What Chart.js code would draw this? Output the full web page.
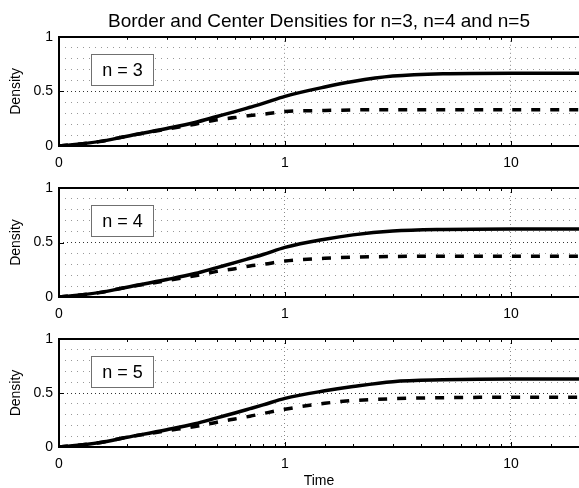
<!DOCTYPE html>
<html>
<head>
<meta charset="utf-8">
<script src="https://cdn.jsdelivr.net/npm/chart.js@4/dist/chart.umd.min.js"></script>
<style>
  body { margin: 0; background: #fff; }
  .panel { position: absolute; left: 0; width: 579px; }
</style>
</head>
<body>
<div class="panel" style="top:0;height:170px"><canvas id="p1"></canvas></div>
<div class="panel" style="top:151px;height:170px"><canvas id="p2"></canvas></div>
<div class="panel" style="top:302px;height:186px"><canvas id="p3"></canvas></div>
<script>
// values
const time = [0.1, 0.15, 0.2, 0.3, 0.4, 0.5, 0.6, 0.7, 0.8, 1, 1.5, 2, 3, 5, 10, 20];
const border3 = [0, 0.04, 0.09, 0.16, 0.215, 0.27, 0.315, 0.355, 0.39, 0.455, 0.54, 0.59, 0.64, 0.662, 0.667, 0.667];
const center3 = [0, 0.04, 0.09, 0.155, 0.20, 0.24, 0.26, 0.28, 0.29, 0.315, 0.325, 0.33, 0.333, 0.333, 0.333, 0.333];
const border4 = [0, 0.04, 0.09, 0.16, 0.215, 0.27, 0.315, 0.355, 0.39, 0.455, 0.53, 0.57, 0.605, 0.62, 0.625, 0.625];
const center4 = [0, 0.04, 0.09, 0.15, 0.195, 0.235, 0.26, 0.285, 0.30, 0.33, 0.355, 0.365, 0.372, 0.375, 0.375, 0.375];
const border5 = [0, 0.04, 0.09, 0.16, 0.215, 0.27, 0.315, 0.355, 0.39, 0.45, 0.52, 0.56, 0.605, 0.622, 0.63, 0.63];
const center5 = [0, 0.04, 0.09, 0.15, 0.19, 0.23, 0.26, 0.285, 0.31, 0.35, 0.405, 0.43, 0.447, 0.457, 0.46, 0.46];
const panelNames = ['n = 3', 'n = 4', 'n = 5'];
const yTickLabels = { 0: '0', 5: '0.5', 10: '1' };     // keyed by value*10
const xTickLabels = { '-1': '0', '0': '1', '1': '10' }; // keyed by log10(value)
const chartTitle = 'Border and Center Densities for n=3, n=4 and n=5';

Chart.defaults.font.family = '"Liberation Sans", Arial, Helvetica, sans-serif';
Chart.defaults.font.size = 14;
Chart.defaults.color = '#000';

function decade(v) {
    const l = Math.log10(v);
    return Math.abs(l - Math.round(l)) < 1e-6 ? Math.round(l) : null;
}

// box frame, inward ticks and the "n = ..." label
const frame = {
    id: 'frame',
    afterDatasetsDraw(chart, args, opts) {
        const ctx = chart.ctx, a = chart.chartArea, sx = chart.scales.x, sy = chart.scales.y;
        ctx.save();
        ctx.strokeStyle = '#000';
        ctx.lineWidth = 1;
        ctx.beginPath();
        sx.ticks.forEach(t => {
            const px = Math.round(sx.getPixelForValue(t.value)) + 0.5;
            const len = decade(t.value) !== null ? 5 : 3;
            ctx.moveTo(px, a.bottom); ctx.lineTo(px, a.bottom - len);
            ctx.moveTo(px, a.top); ctx.lineTo(px, a.top + len);
        });
        sy.ticks.forEach(t => {
            if (yTickLabels[Math.round(t.value * 10)] === undefined) return;
            const py = Math.round(sy.getPixelForValue(t.value)) + 0.5;
            ctx.moveTo(a.left, py); ctx.lineTo(a.left + 5, py);
        });
        ctx.stroke();

        ctx.lineWidth = 2;
        ctx.strokeRect(Math.round(a.left), Math.round(a.top), a.right - a.left + 4, Math.round(a.bottom - a.top));

        // label box
        const bx = Math.round(a.left) + 32.5, by = Math.round(a.top) + 17.5, bw = 62, bh = 31;
        ctx.fillStyle = '#fff';
        ctx.fillRect(bx, by, bw, bh);
        ctx.strokeStyle = '#707070';
        ctx.lineWidth = 1;
        ctx.strokeRect(bx, by, bw, bh);
        ctx.fillStyle = '#000';
        ctx.font = '18px "Liberation Sans", Arial, sans-serif';
        ctx.textAlign = 'center';
        ctx.textBaseline = 'middle';
        ctx.fillText(opts.label, bx + bw / 2, by + bh / 2 + 1);
        ctx.restore();
    }
};

function makeChart(id, border, center, idx) {
    const last = idx === 2;
    const ctx = document.getElementById(id).getContext('2d');
    return new Chart(ctx, {
        type: 'line',
        data: {
            datasets: [{
                data: time.map((t, i) => ({ x: t, y: border[i] })),
                borderColor: '#000',
                borderWidth: 3.5,
                pointRadius: 0,
                cubicInterpolationMode: 'monotone'
            }, {
                data: time.map((t, i) => ({ x: t, y: center[i] })),
                borderColor: '#000',
                borderWidth: 3.5,
                borderDash: [9, 10],
                pointRadius: 0,
                cubicInterpolationMode: 'monotone'
            }]
        },
        options: {
            responsive: true,
            maintainAspectRatio: false,
            animation: false,
            events: [],
            layout: { padding: { top: idx === 0 ? 0 : 37, right: 0, bottom: 0, left: 0 } },
            plugins: {
                legend: { display: false },
                tooltip: { enabled: false },
                title: {
                    display: idx === 0,
                    fullSize: false,
                    text: chartTitle,
                    color: '#000',
                    font: { size: 19, weight: 'normal', lineHeight: 1.2 },
                    padding: { top: 10, bottom: 4 }
                },
                frame: { label: panelNames[idx] }
            },
            scales: {
                x: {
                    type: 'logarithmic',
                    min: 0.1,
                    max: 20,
                    afterFit: s => { s.height = last ? 41 : 24; },
                    ticks: {
                        autoSkip: false,
                        maxRotation: 0,
                        padding: 0,
                        font: { size: 14, lineHeight: 2.45 },
                        callback: v => {
                            const d = decade(v);
                            return d !== null && xTickLabels[d] !== undefined ? xTickLabels[d] : '';
                        }
                    },
                    grid: {
                        drawTicks: false,
                        lineWidth: 1,
                        color: c => {
                            if (!c.tick) return '#000';
                            const d = decade(c.tick.value);
                            return d === 0 || d === 1 ? '#8a8a8a' : 'rgba(0,0,0,0)';
                        }
                    },
                    border: { display: false, dash: [1, 3] },
                    title: {
                        display: last,
                        text: 'Time',
                        font: { size: 14, lineHeight: 1 },
                        padding: { top: 0, bottom: 0 }
                    }
                },
                y: {
                    min: 0,
                    max: 1,
                    afterFit: s => { s.width = 59; },
                    ticks: {
                        stepSize: 0.1,
                        autoSkip: false,
                        padding: 6,
                        callback: v => {
                            const k = yTickLabels[Math.round(v * 10)];
                            return k === undefined ? '' : k;
                        }
                    },
                    grid: {
                        drawTicks: false,
                        lineWidth: 1,
                        color: c => {
                            if (!c.tick) return '#000';
                            const k = Math.round(c.tick.value * 10);
                            if (k === 0 || k === 10) return 'rgba(0,0,0,0)';
                            return k === 5 ? '#333' : '#999';
                        }
                    },
                    border: {
                        display: false,
                        dash: c => (c.tick && Math.round(c.tick.value * 10) === 5) ? [1, 3] : [1, 5]
                    },
                    title: {
                        display: true,
                        text: 'Density',
                        font: { size: 14 },
                        padding: { top: 8, bottom: 0 }
                    }
                }
            }
        },
        plugins: [frame]
    });
}

makeChart('p1', border3, center3, 0);
makeChart('p2', border4, center4, 1);
makeChart('p3', border5, center5, 2);
</script>
</body>
</html>
